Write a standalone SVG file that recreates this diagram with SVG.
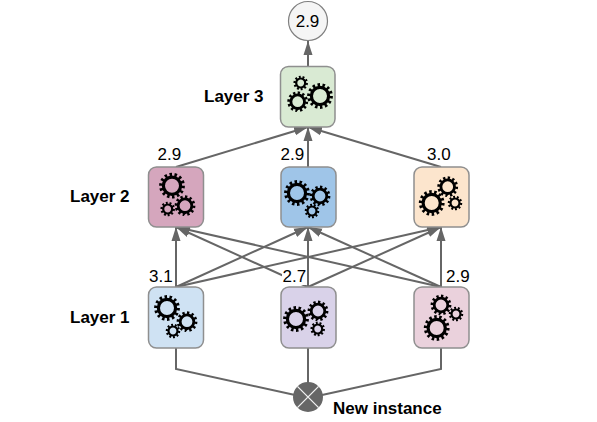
<svg xmlns="http://www.w3.org/2000/svg" width="597" height="422" viewBox="0 0 597 422">
<style>
text{font-family:"Liberation Sans",Arial,sans-serif;font-size:17px;fill:#000}
.b{font-weight:bold;font-size:17px}
.box{stroke:#8f8f8f;stroke-width:1.5}
.c{fill:none;stroke:#666;stroke-width:2}
.g{fill:none;stroke:#000}
</style>
<defs>
<marker id="a" markerUnits="userSpaceOnUse" markerWidth="15" markerHeight="12" refX="14" refY="6" orient="auto"><path d="M0 1.500L14 6L0 10.500Z" fill="#666"/></marker>
<g id="L"><circle class="g" r="8.600" stroke-width="3.200"/><circle class="g" r="11" stroke-width="3.800" pathLength="28" stroke-dasharray="1 1"/></g>
<g id="M"><circle class="g" r="6.800" stroke-width="2.800"/><circle class="g" r="8.800" stroke-width="3.200" pathLength="24" stroke-dasharray="1 1"/></g>
<g id="S"><circle class="g" r="4.500" stroke-width="2.200"/><circle class="g" r="6" stroke-width="2.500" pathLength="20" stroke-dasharray="1 1"/></g>
</defs>
<rect width="597" height="422" fill="#fff"/>
<g id="connectors">
<path class="c" marker-end="url(#a)" d="M176 287V227"/>
<path class="c" marker-end="url(#a)" d="M176 287L308 227"/>
<path class="c" marker-end="url(#a)" d="M176 287L441 227"/>
<path class="c" marker-end="url(#a)" d="M308 287L176 227"/>
<path class="c" marker-end="url(#a)" d="M308 287V227"/>
<path class="c" marker-end="url(#a)" d="M308 287L441 227"/>
<path class="c" marker-end="url(#a)" d="M441 287L176 227"/>
<path class="c" marker-end="url(#a)" d="M441 287L308 227"/>
<path class="c" marker-end="url(#a)" d="M441 287V227"/>
<path class="c" marker-end="url(#a)" d="M176 167L308 127"/>
<path class="c" marker-end="url(#a)" d="M308 167V127"/>
<path class="c" marker-end="url(#a)" d="M441 167L308 127"/>
<path class="c" marker-end="url(#a)" d="M308 66V41"/>
<path class="c" d="M176 348V369L295 395"/>
<path class="c" d="M308 348V383"/>
<path class="c" d="M441 348V369L322 395"/>
</g>
<g id="output"><circle cx="308" cy="21" r="19.500" fill="#f5f5f5" stroke="#7f7f7f" stroke-width="1.200"/><text x="307.500" y="27" text-anchor="middle">2.9</text></g>
<g id="node-l3"><rect class="box" x="280.500" y="66.500" width="54.500" height="60.500" rx="8" fill="#d9ead3"/>
<use href="#S" x="300.700" y="83"/><use href="#M" x="297.700" y="101.700"/><use href="#L" x="320" y="96"/></g>
<g id="node-l2a"><rect class="box" x="148.500" y="167" width="55" height="60" rx="8" fill="#d5a6bd"/>
<use href="#L" x="172" y="185.700"/><use href="#M" x="185" y="205.700"/><use href="#S" x="167.700" y="209"/></g>
<g id="node-l2b"><rect class="box" x="281" y="167" width="55" height="60" rx="8" fill="#9fc5e8"/>
<use href="#L" x="297" y="193"/><use href="#M" x="320" y="196"/><use href="#S" x="312" y="211"/></g>
<g id="node-l2c"><rect class="box" x="414" y="167" width="55" height="60" rx="8" fill="#fce5cd"/>
<use href="#M" x="447.700" y="186.700"/><use href="#S" x="455" y="203"/><use href="#L" x="431.700" y="203"/></g>
<g id="node-l1a"><rect class="box" x="148.500" y="287" width="55" height="61" rx="8" fill="#cfe2f3"/>
<use href="#L" x="167" y="308"/><use href="#M" x="187" y="321.700"/><use href="#S" x="173" y="331"/></g>
<g id="node-l1b"><rect class="box" x="281" y="287" width="55" height="61" rx="8" fill="#d9d2e9"/>
<use href="#L" x="296" y="319"/><use href="#M" x="318" y="311"/><use href="#S" x="317.700" y="329"/></g>
<g id="node-l1c"><rect class="box" x="414" y="287" width="55" height="61" rx="8" fill="#ead1dc"/>
<use href="#M" x="441" y="305"/><use href="#S" x="456" y="314"/><use href="#L" x="436.700" y="328"/></g>
<g id="mixer"><circle cx="308" cy="397" r="15" fill="#666"/><path d="M297.400 386.400L318.600 407.600M318.600 386.400L297.400 407.600" stroke="#f2f2f2" stroke-width="1.300"/></g>
<g id="labels">
<text class="b" x="204" y="101.500">Layer 3</text>
<text class="b" x="70" y="201.500">Layer 2</text>
<text class="b" x="70" y="322.500">Layer 1</text>
<text class="b" x="333" y="413.500">New instance</text>
<text x="157.500" y="160">2.9</text>
<text x="280.500" y="160">2.9</text>
<text x="427" y="160">3.0</text>
<text x="149" y="281.500">3.1</text>
<rect x="282" y="268" width="24" height="17" fill="#fff"/>
<text x="282.500" y="281.500">2.7</text>
<text x="446" y="281.500">2.9</text>
</g>
</svg>
